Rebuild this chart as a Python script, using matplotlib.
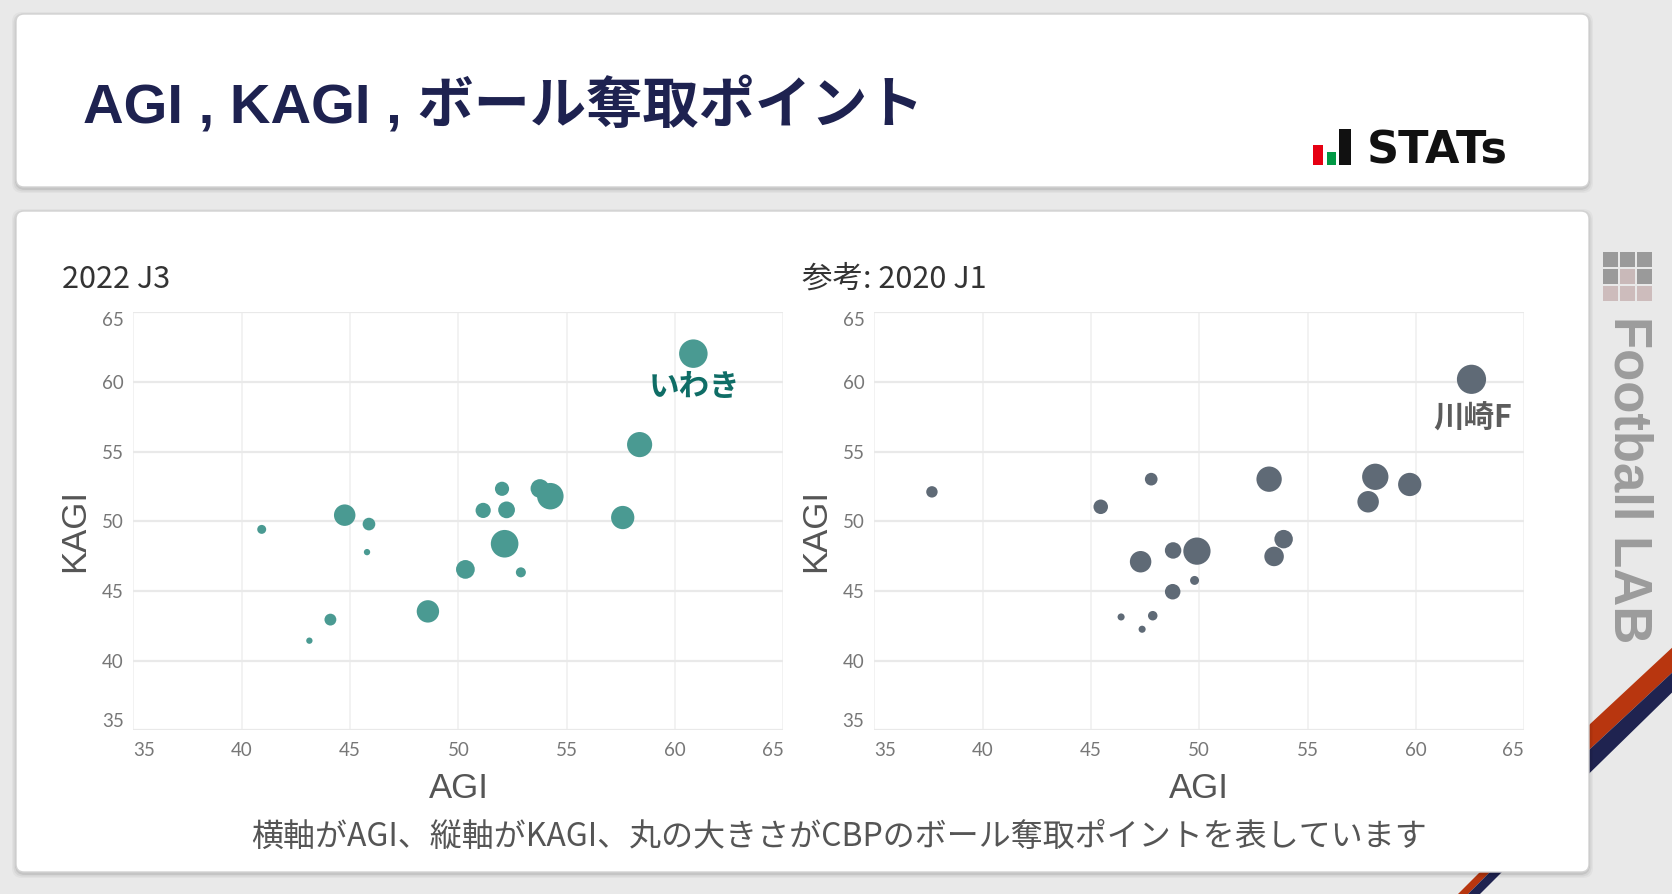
import matplotlib
matplotlib.use("Agg")
import matplotlib.pyplot as plt
from matplotlib.patches import FancyBboxPatch, Rectangle, Polygon

W, H = 1672, 894

# 2022 J3
j3_agi = [60.84, 58.36, 57.58, 54.24, 53.76, 52.13, 52.22, 52.01, 51.14,
          50.32, 52.88, 48.59, 44.75, 45.87, 45.78, 40.92, 44.09, 43.12]
j3_kagi = [62.02, 55.50, 50.27, 51.80, 52.35, 48.39, 50.82, 52.33, 50.78,
           46.55, 46.34, 43.54, 50.44, 49.80, 47.79, 49.42, 42.95, 41.44]
j3_cbp = [81, 63, 54, 70, 35, 76, 28, 20, 23, 35, 10, 50, 46, 16, 4, 8, 14, 4]

# 2020 J1
j1_agi = [62.56, 58.12, 59.71, 57.79, 53.22, 53.89, 53.45, 49.89, 48.79,
          47.29, 48.77, 49.78, 47.78, 45.45, 37.66, 46.39, 47.85, 47.36]
j1_kagi = [60.18, 53.19, 52.64, 51.40, 53.02, 48.72, 47.48, 47.86, 47.91,
           47.10, 44.95, 45.76, 53.02, 51.04, 52.11, 43.14, 43.23, 42.26]
j1_cbp = [85, 69, 54, 46, 64, 34, 38, 74, 27, 46, 24, 8, 16, 21, 13, 5, 9, 5]

ticks = [35, 40, 45, 50, 55, 60, 65]

TEAL = "#4a9a92"
SLATE = "#5f6a76"
NAVY = "#1e2250"

plt.rcParams["font.family"] = ["Noto Sans CJK JP", "DejaVu Sans"]


def fx(x):
    return x / W


def fy(y):
    return 1 - y / H


fig = plt.figure(figsize=(W / 100, H / 100), dpi=100)
fig.patch.set_facecolor("#e9e9e9")

bg = fig.add_axes([0, 0, 1, 1], zorder=-5)
bg.set_xlim(0, W)
bg.set_ylim(H, 0)
bg.axis("off")

# stripes at the right edge
bg.add_patch(Polygon([(1560, 752), (1690, 631), (1690, 656), (1560, 777)], closed=True, fc="#b8360f", ec="none"))
bg.add_patch(Polygon([(1560, 777), (1690, 656), (1690, 675), (1560, 802)], closed=True, fc="#1f2350", ec="none"))
bg.add_patch(Polygon([(1452, 900), (1490, 862), (1500, 862), (1462, 900)], closed=True, fc="#b8360f", ec="none"))
bg.add_patch(Polygon([(1462, 900), (1500, 862), (1512, 862), (1474, 900)], closed=True, fc="#1f2350", ec="none"))


def panel(x0, y0, x1, y1):
    for k, a in [(8, 0.03), (5, 0.05), (2, 0.08)]:
        bg.add_patch(FancyBboxPatch((x0 - k / 2, y0 - k / 2 + 2), x1 - x0 + k, y1 - y0 + k,
                                    boxstyle="round,pad=0,rounding_size=10", fc="black", ec="none", alpha=a))
    bg.add_patch(FancyBboxPatch((x0, y0), x1 - x0, y1 - y0,
                                boxstyle="round,pad=0,rounding_size=8", fc="white", ec="#d2d2d2", lw=1))


panel(16, 14, 1589, 187)
panel(16, 211, 1589, 872)

# Football LAB side logo
grid_cols = [["#9a9a9a", "#9a9a9a", "#9a9a9a"],
             ["#9a9a9a", "#c9b9b9", "#9a9a9a"],
             ["#cdbcbc", "#cdbcbc", "#cdbcbc"]]
for r in range(3):
    for c in range(3):
        bg.add_patch(Rectangle((1603 + c * 17, 252 + r * 17), 15, 15, fc=grid_cols[r][c], ec="none"))
bg.text(1629, 480, "Football LAB", rotation=-90, ha="center", va="center", fontsize=38,
        fontweight="bold", color="#9c9c9c", family="Liberation Sans")

# STATs logo
bg.add_patch(Rectangle((1313, 145), 10, 20, fc="#e60012", ec="none"))
bg.add_patch(Rectangle((1327, 152), 9, 13, fc="#009944", ec="none"))
bg.add_patch(Rectangle((1339, 129), 12, 36, fc="#111111", ec="none"))
bg.text(1367, 164, "STATs", fontsize=32, fontweight="bold", color="#111111",
        family="DejaVu Sans", va="baseline")

fig.text(fx(83), fy(123), "AGI , KAGI , ボール奪取ポイント", fontsize=40.5, fontweight="bold",
         color=NAVY, va="baseline", family=["Liberation Sans", "Noto Sans CJK JP"])


def draw_chart(left, agi, kagi, cbp, color, subtitle, sub_x, label, label_color, label_dy):
    ax = fig.add_axes([left, 0.1829, 0.3888, 0.468])
    ax.set_facecolor("none")
    ax.set_xlim(35, 65)
    ax.set_ylim(35, 65)
    ax.set_xticks(ticks)
    ax.set_yticks(ticks)
    ax.xaxis.grid(True, color="#efefef", lw=1.1)
    ax.yaxis.grid(True, color="#e9e9e9", lw=1.6)
    ax.set_axisbelow(True)
    for s in ax.spines.values():
        s.set_visible(False)
    ax.tick_params(axis="x", length=0, pad=8.0, labelsize=13.5, labelcolor="#777777")
    ax.tick_params(axis="y", length=0, pad=7.0, labelsize=13.5, labelcolor="#777777")
    xl = ax.get_xticklabels()
    yl = ax.get_yticklabels()
    for t in xl + yl:
        t.set_fontfamily("Lato")
    xl[0].set_ha("left")
    xl[-1].set_ha("right")
    yl[0].set_va("bottom")
    yl[-1].set_va("top")

    sizes = [c * 5.2 for c in cbp]
    ax.scatter(agi, kagi, s=sizes, color=color, edgecolors="none", zorder=3, clip_on=False)
    ax.annotate(label, (agi[0], kagi[0]), xytext=(1, -label_dy), textcoords="offset points",
                ha="center", va="center", fontsize=22, fontweight="bold", color=label_color)

    ax.text(-0.09, 0.479, "KAGI", transform=ax.transAxes, rotation=90, ha="center", va="center",
            fontsize=25, color="#555555", family="Liberation Sans")
    ax.text(0.5, (730.5 - 789) / 418.5, "AGI", transform=ax.transAxes, ha="center", va="center",
            fontsize=25, color="#555555", family="Liberation Sans")
    fig.text(fx(sub_x), fy(288), subtitle, fontsize=22, color="#333333", va="baseline")
    return ax


draw_chart(0.0798, j3_agi, j3_kagi, j3_cbp, TEAL, "2022 J3", 62, "いわき", "#0f6d66", 24)
draw_chart(0.5229, j1_agi, j1_kagi, j1_cbp, SLATE, "参考: 2020 J1", 802, "川崎F", "#5c5c5c", 28)

fig.text(fx(839), fy(837), "横軸がAGI、縦軸がKAGI、丸の大きさがCBPのボール奪取ポイントを表しています",
         ha="center", va="center", fontsize=23, color="#555555")

fig.savefig("out.png", dpi=100, facecolor=fig.get_facecolor())
